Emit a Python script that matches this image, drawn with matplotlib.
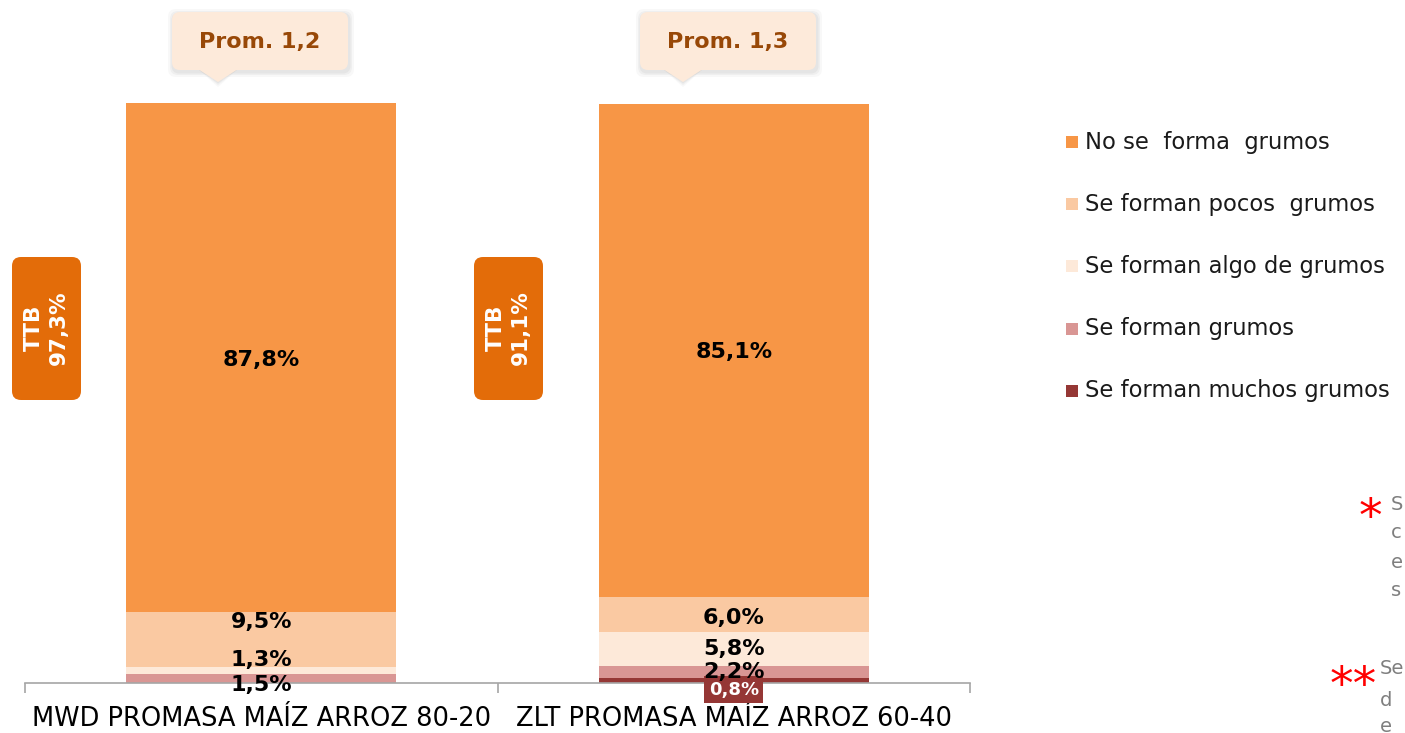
import matplotlib
matplotlib.use("Agg")
import matplotlib.pyplot as plt
from matplotlib.patches import FancyBboxPatch, Polygon, Rectangle
import numpy as np

# ---- data ----
categories = ["MWD PROMASA MAÍZ ARROZ 80-20", "ZLT PROMASA MAÍZ ARROZ 60-40"]
series_names = ["No se  forma  grumos", "Se forman pocos  grumos", "Se forman algo de grumos",
                "Se forman grumos", "Se forman muchos grumos"]
no_se_forma = [87.8, 85.1]
pocos = [9.5, 6.0]
algo = [1.3, 5.8]
grumos = [1.5, 2.2]
muchos = [0.0, 0.8]
promedios = ["Prom. 1,2", "Prom. 1,3"]
ttb = ["97,3%", "91,1%"]

colors = ["#F79646", "#FAC9A2", "#FDE9D9", "#D99694", "#953735"]

W, H = 1405, 733
fig = plt.figure(figsize=(W / 100, H / 100), dpi=100)
fig.patch.set_facecolor("white")

ax = fig.add_axes([25 / W, 1 - 683 / H, (970 - 25) / W, (683 - 103) / H])
ax.set_xlim(-0.5, 1.5)
ax.set_ylim(0, 100)

stack = [muchos, grumos, algo, pocos, no_se_forma]
stack_colors = colors[::-1]
x = np.arange(len(categories))
bottom = np.zeros(len(categories))
centers = []
for vals, c in zip(stack, stack_colors):
    v = np.array(vals)
    ax.bar(x, v, width=0.571, bottom=bottom, color=c, edgecolor="none", zorder=2)
    centers.append(bottom + v / 2)
    bottom = bottom + v

# label offsets in pixels (upward positive), per stack level (bottom->top), per category
offs_px = {
    0: [0, -9],
    1: [-6, 0],
    2: [11, 0],
    3: [17, -3],
    4: [-3, -2],
}
lab_font = dict(fontsize=16, fontweight="bold", family="DejaVu Sans")
for lvl, vals in enumerate(stack):
    for i, v in enumerate(vals):
        if v <= 0:
            continue
        txt = f"{v:.1f}".replace(".", ",") + "%"
        dy = offs_px[lvl][i] / 1.389
        if lvl == 0:
            ax.annotate(txt, (x[i], centers[lvl][i]), xytext=(0, dy), textcoords="offset points",
                        ha="center", va="center", color="white", zorder=5,
                        fontsize=13, fontweight="bold",
                        bbox=dict(boxstyle="square,pad=0.25", fc="#953735", ec="none"))
        else:
            ax.annotate(txt, (x[i], centers[lvl][i]), xytext=(0, dy), textcoords="offset points",
                        ha="center", va="center", color="black", zorder=5, **lab_font)

# axis styling
for s in ["top", "right", "left"]:
    ax.spines[s].set_visible(False)
ax.spines["bottom"].set_color("#A6A6A6")
ax.spines["bottom"].set_linewidth(1.2)
ax.set_yticks([])
ax.set_xticks([-0.5, 0.5, 1.5])
ax.set_xticklabels([])
ax.tick_params(axis="x", length=7, color="#A6A6A6", width=1.2, direction="out")
for i, c in enumerate(categories):
    ax.text(x[i], -4.0, c, ha="center", va="top", fontsize=18.5, color="black",
            transform=ax.transData)
ax.set_facecolor("none")

# overlay axes in pixel coordinates
ov = fig.add_axes([0, 0, 1, 1], zorder=10)
ov.set_xlim(0, W)
ov.set_ylim(H, 0)
ov.axis("off")
ov.patch.set_alpha(0)

# callouts
for cx, ptr, label in [(260, 218, promedios[0]), (728, 683, promedios[1])]:
    bx0, bx1, by0, by1 = cx - 88, cx + 88, 12, 70
    # shadow
    for k, a in [(5, 0.10), (3, 0.15), (1.5, 0.2)]:
        ov.add_patch(FancyBboxPatch((bx0 - k + 1, by0 - k + 2), bx1 - bx0 + 2 * k, by1 - by0 + 2 * k,
                                    boxstyle="round,pad=0,rounding_size=8", fc="#BFBFBF", ec="none",
                                    alpha=a, zorder=1))
        ov.add_patch(Polygon([[ptr - 20, by1 - 1], [ptr + 20, by1 - 1], [ptr, by1 + 12 + k]], closed=True,
                             fc="#BFBFBF", ec="none", alpha=a, zorder=1))
    ov.add_patch(Polygon([[ptr - 20, by1 - 1], [ptr + 20, by1 - 1], [ptr, by1 + 12]], closed=True,
                         fc="#FDEADA", ec="none", zorder=2))
    ov.add_patch(FancyBboxPatch((bx0, by0), bx1 - bx0, by1 - by0,
                                boxstyle="round,pad=0,rounding_size=8", fc="#FDEADA", ec="none", zorder=2))
    ov.text(cx, (by0 + by1) / 2 + 1, label, ha="center", va="center", fontsize=16,
            fontweight="bold", color="#984807", zorder=3)

# TTB boxes
for bx, val in [(12, ttb[0]), (474, ttb[1])]:
    ov.add_patch(FancyBboxPatch((bx, 257), 69, 143, boxstyle="round,pad=0,rounding_size=9",
                                fc="#E36C09", ec="none", zorder=2))
    ov.text(bx + 34.5, 328, "TTB\n" + val, ha="center", va="center", rotation=90, fontsize=15.5,
            fontweight="bold", color="white", linespacing=1.3, zorder=3, multialignment="center")

# legend
lx, ly0, dy = 1072, 142, 62.2
for k, (nm, c) in enumerate(zip(series_names, colors)):
    yy = ly0 + k * dy
    ov.add_patch(Rectangle((lx - 6, yy - 6), 12, 12, fc=c, ec="none"))
    ov.text(lx + 13, yy, nm, ha="left", va="center", fontsize=16.3, color="#1A1A1A")

# notes (at the right edge)
ov.text(1370, 519, "*", ha="center", va="center", fontsize=34, color="#FF0000")
ov.text(1353, 686, "**", ha="center", va="center", fontsize=34, color="#FF0000")
for yy, t in [(505, "S"), (533, "c"), (562, "e"), (591, "s")]:
    ov.text(1391, yy, t, ha="left", va="center", fontsize=14, color="#7F7F7F")
for yy, t in [(669, "Se"), (700, "d"), (726, "e")]:
    ov.text(1380, yy, t, ha="left", va="center", fontsize=14, color="#7F7F7F")

fig.savefig("out.png", dpi=100, facecolor="white")
